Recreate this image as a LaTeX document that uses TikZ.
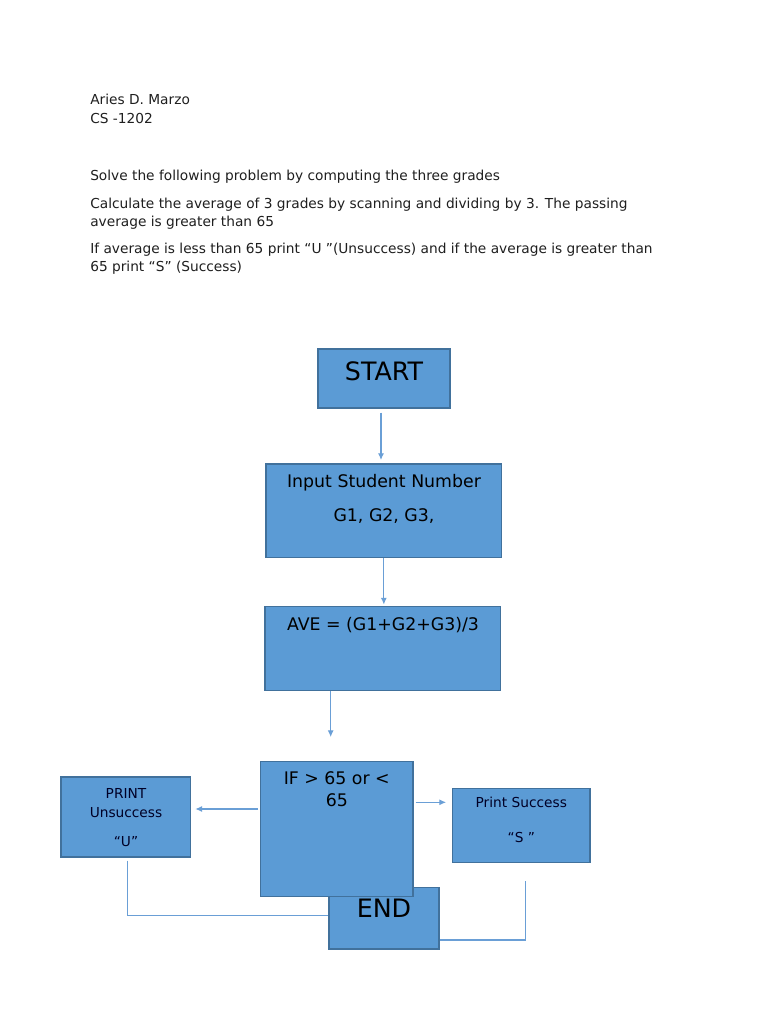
\documentclass[tikz,border=0pt]{standalone}
\usepackage{fontspec}
\setmainfont{DejaVu Sans}
\usetikzlibrary{arrows.meta,fit}
\definecolor{boxfill}{HTML}{5B9BD5}
\definecolor{boxline}{HTML}{41719C}
\definecolor{connc}{HTML}{6A9FD6}
\begin{document}
\begin{tikzpicture}[x=0.75pt,y=-0.75pt,
  box/.style={draw=boxline,fill=boxfill,line width=1pt,inner sep=0pt,rectangle},
  bodytext/.style={anchor=base west,inner sep=0pt,font=\fontsize{10.3}{12}\selectfont,text=black!88},
  boxtext/.style={anchor=base,inner sep=0pt,text=black},
  bigtext/.style={boxtext,font=\fontsize{19}{22}\selectfont},
  midtext/.style={boxtext,font=\fontsize{13}{15}\selectfont},
  smalltext/.style={boxtext,font=\fontsize{10.3}{12}\selectfont,text=black!85!blue},
  conn/.style={draw=connc,line width=0.8pt},
  arrow/.style={conn,-{Latex[length=5pt,width=4.5pt]}}
]
\useasboundingbox (0,0) rectangle (768,1024);
\fill[white] (0,0) rectangle (768,1024);

% header text
\node[bodytext] (name) at (90,104.7) {Aries D. Marzo};
\node[bodytext] (course) at (90,123) {CS -1202};
\node[bodytext] (p1) at (90,180) {Solve the following problem by computing the three grades};
\node[bodytext] (p2a) at (90,208) {Calculate the average of 3 grades by scanning and dividing by 3. The passing};
\node[bodytext] (p2b) at (90,226) {average is greater than 65};
\node[bodytext] (p3a) at (90,253) {If average is less than 65 print “U ”(Unsuccess) and if the average is greater than};
\node[bodytext] (p3b) at (90,271) {65 print “S” (Success)};

% boxes
\node[box,fit={(318,349)(450,408)}] (start) {};
\node[box,fit={(266,464)(501.7,557.7)}] (input) {};
\node[box,fit={(265,606.5)(500.7,690.5)}] (ave) {};
\node[box,fit={(61,777)(190.7,857)}] (uns) {};
\node[box,fit={(452.7,788.3)(590,862.7)}] (suc) {};
\node[box,fit={(329,887.7)(439,949)}] (end) {};
\node[box,fit={(260.7,761.7)(413,896.7)}] (ifb) {};

% box texts
\node[bigtext] (starttxt) at (384,380) {START};
\node[midtext] (inputtxta) at (384,487) {Input Student Number};
\node[midtext] (inputtxtb) at (384,521) {G1, G2, G3,};
\node[midtext] (avetxt) at (383,630) {AVE = (G1+G2+G3)/3};
\node[midtext] (iftxta) at (336.8,784) {IF > 65 or <};
\node[midtext] (iftxtb) at (336.8,806) {65};
\node[bigtext] (endtxt) at (384,917) {END};
\node[smalltext] (unstxta) at (126,798) {PRINT};
\node[smalltext] (unstxtb) at (126,817) {Unsuccess};
\node[smalltext] (unstxtc) at (126,846) {“U”};
\node[smalltext] (suctxta) at (521.3,807) {Print Success};
\node[smalltext] (suctxtb) at (521.3,842) {“S ”};

% connectors
\coordinate (a1) at (381,460);
\draw[arrow,shorten <=3pt] (a1 |- start.south) -- (a1);
\draw[arrow,shorten >=1pt] (input.south) -- (input.south |- ave.north);
\coordinate (a3) at (330.7,737);
\draw[arrow] (a3 |- ave.south) -- (a3);
\coordinate (y4) at (0,809);
\draw[arrow,shorten <=1.5pt,shorten >=3pt] (ifb.west |- y4) -- (uns.east |- y4);
\coordinate (y5) at (0,802.3);
\draw[arrow,shorten <=1.5pt,shorten >=4.5pt] (ifb.east |- y5) -- (suc.west |- y5);
\coordinate (c6) at (127.3,915.7);
\draw[conn,shorten <=2.25pt] (c6 |- uns.south) -- (c6) -- (c6 -| end.west);
\coordinate (c7) at (525.7,940);
\draw[conn,shorten <=13.5pt] (c7 |- suc.south) -- (c7) -- (c7 -| end.east);
\end{tikzpicture}
\end{document}
